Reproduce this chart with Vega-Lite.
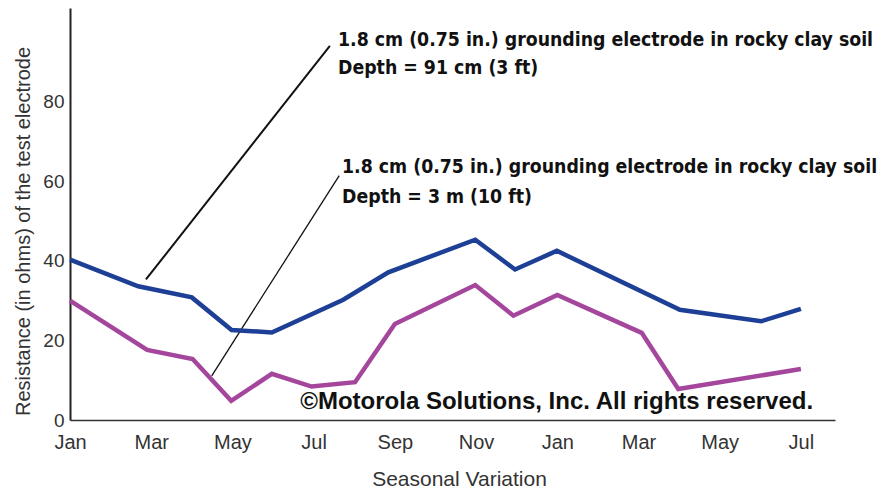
{
  "$schema": "https://vega.github.io/schema/vega-lite/v6.json",
  "width": 765,
  "height": 412,
  "autosize": {"type": "none"},
  "padding": {"left": 70, "top": 8, "right": 47, "bottom": 72},
  "background": "white",
  "config": {
    "view": {"stroke": null},
    "font": "Liberation Sans"
  },
  "datasets": {
    "series": [
      {"month": 0, "value": 40.3, "series": "91 cm"},
      {"month": 1.68, "value": 33.6, "series": "91 cm"},
      {"month": 3.0, "value": 30.8, "series": "91 cm"},
      {"month": 3.98, "value": 22.6, "series": "91 cm"},
      {"month": 4.97, "value": 22.0, "series": "91 cm"},
      {"month": 6.73, "value": 30.2, "series": "91 cm"},
      {"month": 7.84, "value": 37.1, "series": "91 cm"},
      {"month": 9.98, "value": 45.3, "series": "91 cm"},
      {"month": 10.96, "value": 37.8, "series": "91 cm"},
      {"month": 11.99, "value": 42.5, "series": "91 cm"},
      {"month": 15.02, "value": 27.7, "series": "91 cm"},
      {"month": 17.02, "value": 24.8, "series": "91 cm"},
      {"month": 18.0, "value": 27.9, "series": "91 cm"},
      {"month": 0, "value": 30.0, "series": "3 m"},
      {"month": 1.9, "value": 17.6, "series": "3 m"},
      {"month": 3.02, "value": 15.3, "series": "3 m"},
      {"month": 3.97, "value": 4.8, "series": "3 m"},
      {"month": 4.97, "value": 11.6, "series": "3 m"},
      {"month": 5.95, "value": 8.4, "series": "3 m"},
      {"month": 7.02, "value": 9.5, "series": "3 m"},
      {"month": 8.0, "value": 24.1, "series": "3 m"},
      {"month": 9.98, "value": 33.9, "series": "3 m"},
      {"month": 10.92, "value": 26.2, "series": "3 m"},
      {"month": 12.0, "value": 31.4, "series": "3 m"},
      {"month": 14.08, "value": 21.9, "series": "3 m"},
      {"month": 14.98, "value": 7.8, "series": "3 m"},
      {"month": 18.0, "value": 12.8, "series": "3 m"}
    ],
    "leaders": [
      {"series": "91 cm", "x1": 1.87, "y1": 35.3, "x2": 6.4, "y2": 94.0},
      {"series": "3 m", "x1": 3.49, "y1": 11.1, "x2": 6.63, "y2": 61.4}
    ],
    "notes": [
      {"x": 6.6, "y": 95.5, "label": "1.8 cm (0.75 in.) grounding electrode in rocky clay soil"},
      {"x": 6.6, "y": 88.4, "label": "Depth = 91 cm (3 ft)"},
      {"x": 6.7, "y": 63.6, "label": "1.8 cm (0.75 in.) grounding electrode in rocky clay soil"},
      {"x": 6.7, "y": 56.0, "label": "Depth = 3 m (10 ft)"}
    ],
    "credit": [
      {"x": 5.67, "y": 4.5, "label": "©Motorola Solutions, Inc. All rights reserved."}
    ]
  },
  "layer": [
    {
      "data": {"name": "leaders"},
      "mark": {"type": "rule", "color": "#111111"},
      "encoding": {
        "x": {"field": "x1", "type": "quantitative"},
        "y": {"field": "y1", "type": "quantitative"},
        "x2": {"field": "x2"},
        "y2": {"field": "y2"},
        "strokeWidth": {"field": "series", "type": "nominal", "scale": {"domain": ["91 cm", "3 m"], "range": [2, 1.3]}, "legend": null}
      }
    },
    {
      "data": {"name": "series"},
      "mark": {"type": "line", "strokeWidth": 4.5, "strokeJoin": "miter"},
      "encoding": {
        "x": {
          "field": "month", "type": "quantitative",
          "scale": {"domain": [0, 18.84], "nice": false, "zero": false},
          "axis": {
            "values": [0, 2, 4, 6, 8, 10, 12, 14, 16, 18],
            "labelExpr": "['Jan','Mar','May','Jul','Sep','Nov','Jan','Mar','May','Jul'][round(datum.value/2)]",
            "ticks": false, "grid": false,
            "domainColor": "#333333", "domainWidth": 1.5,
            "labelFontSize": 20, "labelColor": "#333333", "labelPadding": 12,
            "labelFlush": false, "labelOverlap": false,
            "title": "Seasonal Variation", "titleFontSize": 21, "titleFontWeight": "normal",
            "titleColor": "#333333", "titlePadding": 16, "titleX": 389
          }
        },
        "y": {
          "field": "value", "type": "quantitative",
          "scale": {"domain": [0, 103.5], "nice": false},
          "axis": {
            "values": [0, 20, 40, 60, 80],
            "ticks": false, "grid": false,
            "domainColor": "#222222", "domainWidth": 2,
            "labelFontSize": 19, "labelColor": "#333333", "labelPadding": 6,
            "labelFlush": false, "labelOverlap": false,
            "title": "Resistance (in ohms) of the test electrode", "titleFontSize": 20,
            "titleFontWeight": "normal", "titleColor": "#333333", "titlePadding": 9,
            "titleY": 223
          }
        },
        "color": {"field": "series", "type": "nominal", "scale": {"domain": ["91 cm", "3 m"], "range": ["#1D3F96", "#A4479C"]}, "legend": null}
      }
    },
    {
      "data": {"name": "notes"},
      "mark": {"type": "text", "align": "left", "baseline": "middle", "font": "DejaVu Sans Condensed", "fontWeight": "bold", "fontSize": 19.3, "color": "#111111"},
      "encoding": {
        "x": {"field": "x", "type": "quantitative"},
        "y": {"field": "y", "type": "quantitative"},
        "text": {"field": "label"}
      }
    },
    {
      "data": {"name": "credit"},
      "mark": {"type": "text", "align": "left", "baseline": "middle", "font": "Liberation Sans", "fontWeight": "bold", "fontSize": 24, "color": "#111111"},
      "encoding": {
        "x": {"field": "x", "type": "quantitative"},
        "y": {"field": "y", "type": "quantitative"},
        "text": {"field": "label"}
      }
    }
  ]
}
